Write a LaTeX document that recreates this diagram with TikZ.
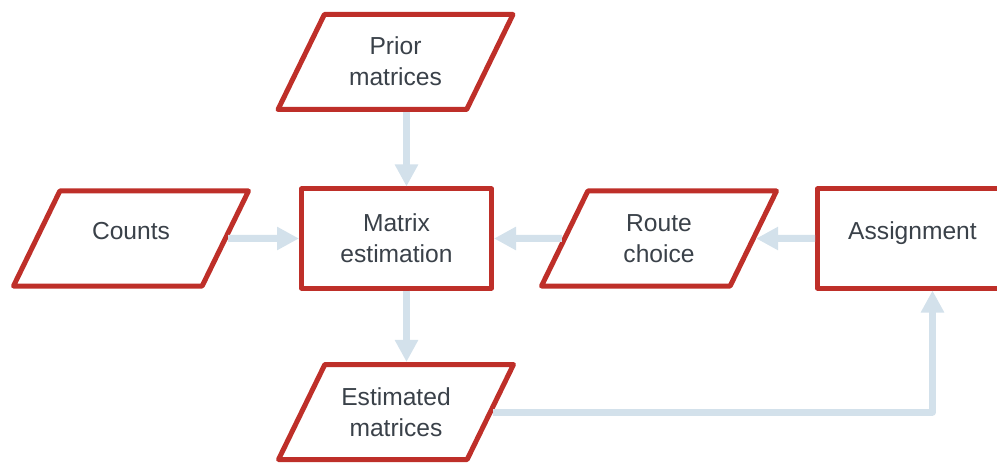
\documentclass[tikz,border=0pt]{standalone}
\usepackage{fontspec}
\setmainfont{Liberation Sans}
\usetikzlibrary{shapes.geometric,arrows.meta}
\definecolor{boxred}{HTML}{BE2F29}
\definecolor{flowblue}{HTML}{D3E1EB}
\definecolor{txtgray}{HTML}{3A4149}
\begin{document}
\begin{tikzpicture}[x=0.5pt,y=-0.5pt,line join=round,
    box/.style={draw=boxred,line width=2.5pt,fill=white,text=txtgray,align=center,
      font=\fontsize{12.3}{15.5}\selectfont},
    rbox/.style={box,rectangle,minimum width=95pt,minimum height=49.5pt},
    iobox/.style={box,trapezium,trapezium left angle=64,trapezium right angle=116,
      trapezium stretches body,minimum width=117.5pt,inner ysep=0pt,
      text height=35.75pt,text depth=11.75pt},
    single/.style={text height=24.15pt,text depth=23.35pt},
    flow/.style={draw=flowblue,line width=3.5pt,-{Triangle[length=11pt,width=11pt]}}]
  \def\dx{5pt}
  \useasboundingbox (0,0) rectangle (997,465);
  \clip (0,0) rectangle (997,465);
  % boxes
  \node[iobox] (prior) at (395.5,62) {Prior\\matrices};
  \node[iobox,single] (counts) at (131,238.5) {Counts};
  \node[rbox] (matrix) at (396.5,238.5) {Matrix\\estimation};
  \node[iobox] (route) at (659,238.5) {Route\\choice};
  \node[rbox,text depth=8pt] (assign) at (912.5,238.5) {Assignment};
  \node[iobox] (estim) at (396,412) {Estimated\\matrices};
  % flows
  \draw[flow] ([xshift=\dx]matrix.north |- prior.south) -- ([xshift=\dx]matrix.north);
  \draw[flow] (counts) -- (matrix.west);
  \draw[flow] (route) -- (matrix.east);
  \draw[flow] (assign.west) -- (route);
  \draw[flow] ([xshift=\dx]matrix.south) -- ([xshift=\dx]matrix.south |- estim.north);
  \draw[flow] (estim) -| ([xshift=2*\dx]assign.south);
\end{tikzpicture}
\end{document}
